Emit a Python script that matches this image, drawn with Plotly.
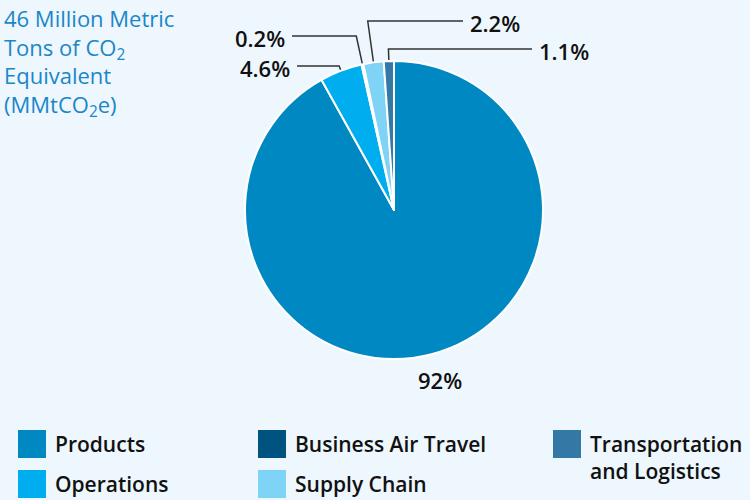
import math
import plotly.graph_objects as go

# ---- data ----
categories = ["Products", "Operations", "Business Air Travel", "Supply Chain", "Transportation and Logistics"]
values = [92, 4.6, 0.2, 2.2, 1.1]
value_labels = ["92%", "4.6%", "0.2%", "2.2%", "1.1%"]
colors = ["#0088c3", "#00aeef", "#00537f", "#7fd3f6", "#3478a6"]
legend_order = ["Products", "Operations", "Business Air Travel", "Supply Chain", "Transportation and Logistics"]
legend_text = {"Transportation and Logistics": "Transportation<br>and Logistics"}
title_text = "46 Million Metric<br>Tons of CO<sub>2</sub><br>Equivalent<br>(MMtCO<sub>2</sub>e)"

# ---- layout constants (pixels) ----
W, H = 750, 500
BG = "#edf7fd"
FONT = "Open Sans"
CX, CY, R = 394, 210, 149

def px(x):
    return x / W

def py(y):
    return 1 - y / H

fig = go.Figure()
fig.add_trace(go.Pie(
    labels=categories, values=values, sort=False, direction="clockwise", rotation=0,
    marker=dict(colors=colors, line=dict(color="white", width=2)),
    textinfo="none", showlegend=False, hoverinfo="label+percent",
    domain=dict(x=[px(CX - R), px(CX + R)], y=[py(CY + R), py(CY - R)]),
))

shapes = []
annotations = []

# leader-line labels: (line y, outer end x, side)
leader = {
    "Operations": (66, 297, "left"),
    "Business Air Travel": (36, 292, "left"),
    "Supply Chain": (21, 463, "right"),
    "Transportation and Logistics": (49, 532, "right"),
}
label_font = dict(family=FONT, size=22, color="#111111", weight=600)
total = sum(values)
cum = 0
for cat, v, lab in zip(categories, values, value_labels):
    mid = (cum + v / 2) / total * 2 * math.pi
    cum += v
    s, c = math.sin(mid), math.cos(mid)
    if cat in leader:
        yl, xo, side = leader[cat]
        t = (CY - yl) / c
        xk = CX + t * s
        x0, y0 = CX + (R + 1) * s, CY - (R + 1) * c
        shapes.append(dict(
            type="path", xref="paper", yref="paper",
            path=f"M {px(xo)},{py(yl)} L {px(xk)},{py(yl)} L {px(x0)},{py(y0)}",
            line=dict(color="#333333", width=1.5),
        ))
        annotations.append(dict(
            x=px(xo - 5) if side == "left" else px(xo + 5), y=py(yl + 2),
            xref="paper", yref="paper", text=lab, showarrow=False,
            xanchor="right" if side == "left" else "left", yanchor="middle",
            font=label_font,
        ))
    else:
        annotations.append(dict(
            x=px(440), y=py(380), xref="paper", yref="paper", text=lab, showarrow=False,
            xanchor="center", yanchor="middle", font=label_font,
        ))

# title
annotations.append(dict(
    x=px(2), y=py(1), xref="paper", yref="paper", text=title_text, showarrow=False,
    xanchor="left", yanchor="top", align="left",
    font=dict(family=FONT, size=22, color="#1b86c8"),
))

# manual legend
col_x = [18, 258, 553]
row_y = [430, 470]
SQ = 28
pos = {
    "Products": (0, 0), "Operations": (0, 1),
    "Business Air Travel": (1, 0), "Supply Chain": (1, 1),
    "Transportation and Logistics": (2, 0),
}
for cat in legend_order:
    col, row = pos[cat]
    color = colors[categories.index(cat)]
    x, y = col_x[col], row_y[row]
    shapes.append(dict(type="rect", xref="paper", yref="paper",
                       x0=px(x), x1=px(x + SQ), y0=py(y + SQ), y1=py(y),
                       fillcolor=color, line=dict(width=0)))
    txt = legend_text.get(cat, cat)
    multiline = "<br>" in txt
    annotations.append(dict(
        x=px(x + SQ + 7), y=py(y + SQ / 2) if not multiline else py(y - 2),
        xref="paper", yref="paper", text=txt, showarrow=False,
        xanchor="left", yanchor="middle" if not multiline else "top", align="left",
        font=dict(family=FONT, size=21, color="#111111", weight=600),
    ))

fig.update_layout(
    width=W, height=H, margin=dict(l=0, r=0, t=0, b=0),
    paper_bgcolor=BG, plot_bgcolor=BG,
    shapes=shapes, annotations=annotations, showlegend=False,
)
fig.write_html(
    "out.html",
    config={"displayModeBar": False},
    post_script="document.body.style.margin='0';document.body.style.background='%s';" % BG,
)
